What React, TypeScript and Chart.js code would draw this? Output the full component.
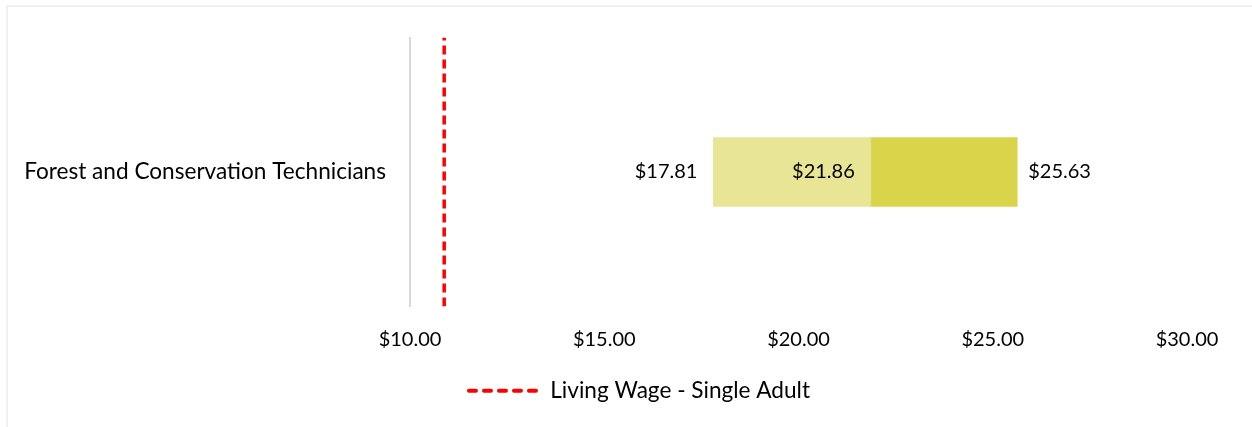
import React, { useEffect, useRef } from "react";
import { Chart, registerables } from "chart.js";

Chart.register(...registerables);

const CATEGORIES = ["Forest and Conservation Technicians"];
const WAGE_LOW = [17.81];
const WAGE_MEDIAN = [21.86];
const WAGE_HIGH = [25.63];
const LIVING_WAGE = 10.88;
const LIVING_WAGE_LABEL = "Living Wage - Single Adult";
const X_MIN = 10;
const X_MAX = 30;
const X_STEP = 5;

const fmt = (v: number) => "$" + v.toFixed(2);

const FONT = "Lato, 'Open Sans', sans-serif";

const dataLabelPlugin = {
  id: "wageLabels",
  afterDatasetsDraw(chart: any) {
    const ctx = chart.ctx;
    const m0 = chart.getDatasetMeta(0);
    const m1 = chart.getDatasetMeta(1);
    ctx.save();
    ctx.font = `20px ${FONT}`;
    ctx.fillStyle = "#000";
    ctx.textBaseline = "middle";
    m0.data.forEach((el: any, i: number) => {
      const start = Math.min(el.x, el.base);
      const end = Math.max(el.x, el.base);
      ctx.textAlign = "right";
      ctx.fillText(fmt(WAGE_LOW[i]), start - 16, el.y);
      ctx.fillText(fmt(WAGE_MEDIAN[i]), end - 16, el.y);
    });
    m1.data.forEach((el: any, i: number) => {
      const end = Math.max(el.x, el.base);
      ctx.textAlign = "left";
      ctx.fillText(fmt(WAGE_HIGH[i]), end + 11, el.y);
    });
    ctx.restore();
  },
};

const legendShiftPlugin = {
  id: "legendShift",
  afterLayout(chart: any) {
    const lg = chart.legend;
    if (lg) {
      lg.left += 46;
      lg.right += 46;
    }
  },
};

export default function App() {
  const ref = useRef<HTMLCanvasElement | null>(null);
  useEffect(() => {
    if (!ref.current) return;
    Chart.defaults.font.family = FONT;
    const chart = new Chart(ref.current, {
      type: "bar",
      data: {
        labels: CATEGORIES,
        datasets: [
          {
            label: "Low to Median",
            data: CATEGORIES.map((_, i) => [WAGE_LOW[i], WAGE_MEDIAN[i]]) as any,
            backgroundColor: "#E8E594",
            grouped: false,
            barThickness: 69,
            xAxisID: "x",
            yAxisID: "y",
          } as any,
          {
            label: "Median to High",
            data: CATEGORIES.map((_, i) => [WAGE_MEDIAN[i], WAGE_HIGH[i]]) as any,
            backgroundColor: "#DAD44B",
            grouped: false,
            barThickness: 69,
            xAxisID: "x",
            yAxisID: "y",
          } as any,
          {
            type: "line",
            label: LIVING_WAGE_LABEL,
            data: [
              { x: LIVING_WAGE, y: 0 },
              { x: LIVING_WAGE, y: 1 },
            ],
            indexAxis: "x",
            xAxisID: "x",
            yAxisID: "y2",
            borderColor: "#FF0000",
            backgroundColor: "#FF0000",
            borderWidth: 3.5,
            borderDash: [9, 5],
            pointRadius: 0,
            fill: false,
          } as any,
        ],
      },
      options: {
        indexAxis: "y",
        animation: false,
        responsive: true,
        maintainAspectRatio: false,
        layout: { padding: { left: 0, right: 65, top: 35, bottom: 15 } },
        scales: {
          x: {
            type: "linear",
            position: "bottom",
            min: X_MIN,
            max: X_MAX,
            ticks: {
              stepSize: X_STEP,
              callback: (v: any) => fmt(Number(v)),
              font: { size: 20, family: FONT },
              color: "#000",
              padding: 21,
              maxRotation: 0,
            },
            grid: { display: false, drawTicks: false },
            border: { display: false },
            afterFit: (s: any) => {
              s.height = 63;
            },
          },
          y: {
            type: "category",
            position: "left",
            ticks: {
              font: { size: 22.6, family: FONT },
              color: "#000",
              padding: 24,
            },
            grid: { display: false, drawTicks: false },
            border: { display: true, color: "#D9D9D9", width: 2 },
            afterFit: (s: any) => {
              s.width = 410;
            },
          },
          y2: {
            type: "linear",
            position: "left",
            min: 0,
            max: 1,
            offset: false,
            display: false,
          },
        } as any,
        plugins: {
          tooltip: { enabled: false },
          legend: {
            position: "bottom",
            labels: {
              usePointStyle: true,
              pointStyleWidth: 70,
              padding: 10,
              color: "#000",
              font: { size: 22.6, family: FONT },
              generateLabels: (c: any) =>
                c.data.datasets
                  .map((ds: any, i: number) => ({ ds, i }))
                  .filter(({ ds }: any) => ds.type === "line")
                  .map(({ ds, i }: any) => ({
                    text: ds.label,
                    fillStyle: ds.borderColor,
                    strokeStyle: ds.borderColor,
                    lineWidth: 4,
                    lineDash: [7, 8],
                    lineCap: "round",
                    pointStyle: "line",
                    datasetIndex: i,
                    hidden: false,
                    fontColor: "#000",
                  })),
            },
          },
        },
      },
      plugins: [dataLabelPlugin, legendShiftPlugin],
    });
    return () => chart.destroy();
  }, []);

  return (
    <>
      <div
        style={{
          position: "fixed",
          left: 6,
          top: 5,
          width: 1300,
          height: 500,
          border: "2px solid #F0F0F0",
          background: "#fff",
        }}
      />
      <div style={{ position: "fixed", left: 0, top: 0, width: 1252, height: 427 }}>
        <canvas ref={ref} />
      </div>
    </>
  );
}
